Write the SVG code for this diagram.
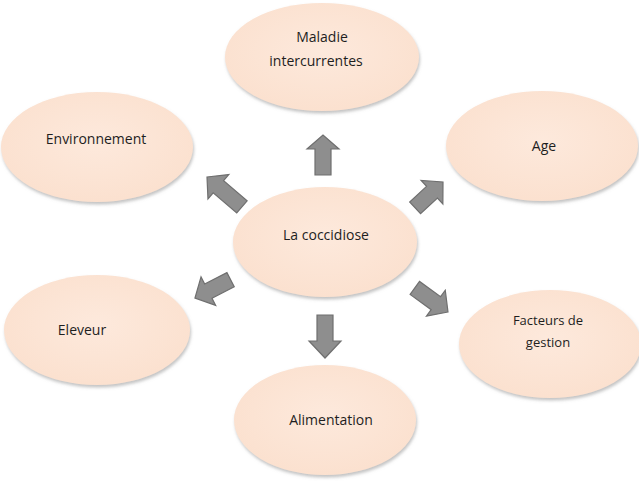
<svg xmlns="http://www.w3.org/2000/svg" width="639" height="484" viewBox="0 0 639 484">
<defs>
<filter id="sh" x="-10%" y="-10%" width="120%" height="130%">
<feDropShadow dx="1" dy="2.5" stdDeviation="1.5" flood-color="#888" flood-opacity="0.5"/>
</filter>
<radialGradient id="g" cx="50%" cy="45%" r="60%">
<stop offset="0" stop-color="#FDE9DC"/>
<stop offset="1" stop-color="#FBE0CE"/>
</radialGradient>
</defs>
<style>
.n ellipse{fill:url(#g);filter:url(#sh)}
.n text{font-family:"Open Sans","Liberation Sans",sans-serif;font-size:14px;fill:#1e1e1e;text-anchor:middle}
.a path{fill:#8e8e8e;stroke:#6f6f6f;stroke-width:1.2;stroke-linejoin:miter}
</style>
<rect width="639" height="484" fill="#fff"/>
<g id="maladie" class="n"><ellipse cx="322" cy="57" rx="97" ry="54"/><text x="322" y="42">Maladie</text><text x="316" y="66">intercurrentes</text></g>
<g id="environnement" class="n"><ellipse cx="97" cy="147" rx="96" ry="55"/><text x="96" y="144">Environnement</text></g>
<g id="age" class="n"><ellipse cx="542" cy="146" rx="96" ry="55"/><text x="544" y="151">Age</text></g>
<g id="coccidiose" class="n"><ellipse cx="325" cy="242" rx="92" ry="55"/><text x="326" y="240">La coccidiose</text></g>
<g id="eleveur" class="n"><ellipse cx="97" cy="330" rx="93" ry="55"/><text x="82" y="335">Eleveur</text></g>
<g id="facteurs" class="n"><ellipse cx="550" cy="344" rx="91" ry="54"/><text x="548" y="325" style="font-size:13px">Facteurs de</text><text x="548" y="347" style="font-size:13px">gestion</text></g>
<g id="alimentation" class="n"><ellipse cx="325" cy="420" rx="91" ry="55"/><text x="331" y="425">Alimentation</text></g>
<g id="connectors" class="a">
<path d="M315,175 V149 H307 L323,135 L339,149 H331 V175 Z"/>
<path d="M317,315 V341 H309 L325,358 L341,341 H333 V315 Z"/>
<path transform="translate(207,177) rotate(-139.4)" d="M0,0 L-15,16 V8 H-46 V-8 H-15 V-16 Z"/>
<path transform="translate(443,182) rotate(-42.8)" d="M0,0 L-15,16 V8 H-38 V-8 H-15 V-16 Z"/>
<path transform="translate(195,298) rotate(152.8)" d="M0,0 L-15,16 V8 H-40 V-8 H-15 V-16 Z"/>
<path transform="translate(448,312) rotate(36)" d="M0,0 L-15,16 V8 H-41 V-8 H-15 V-16 Z"/>
</g>
</svg>
